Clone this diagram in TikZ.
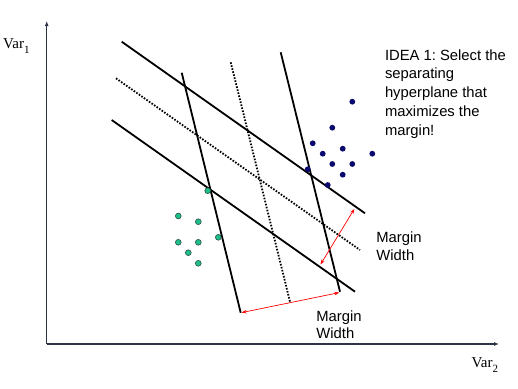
\documentclass[tikz,border=0pt]{standalone}
\usepackage{fontspec}
\setmainfont{Liberation Sans}
\newfontfamily\serifvar{Liberation Serif}
\usetikzlibrary{arrows.meta}
\frenchspacing
\definecolor{axiscol}{HTML}{2E3445}
\definecolor{bluedot}{HTML}{0A0A6E}
\definecolor{greendot}{HTML}{1DBF8C}
\definecolor{greenedge}{HTML}{2F4F45}
\tikzset{
  axis/.style={draw=axiscol, line width=1.3pt, -{Latex[length=5pt,width=4pt]}},
  plane/.style={draw=black, line width=1.8pt},
  midplane/.style={draw=black, line width=1.8pt, dash pattern=on 1.6pt off 1.5pt},
  margarrow/.style={draw=red, line width=0.7pt, {Stealth[length=5pt,width=3.5pt]}-{Stealth[length=5pt,width=3.5pt]}},
  bdot/.style={fill=bluedot, draw=none},
  gdot/.style={fill=greendot, draw=greenedge, line width=0.6pt},
  lbl/.style={inner sep=0pt, anchor=north west, align=left, font=\fontsize{14.8}{17.3}\selectfont},
  varlbl/.style={inner sep=0pt, anchor=base west, font=\serifvar\fontsize{15}{15}\selectfont}
}
\begin{document}
\begin{tikzpicture}[x=1pt,y=-1pt]
\useasboundingbox (0,0) rectangle (518,388);
% axes
\coordinate (O) at (46.7,344);
\coordinate (Ytop) at (46.7,21);
\coordinate (Xend) at (499,344);
\draw[axis] (O) -- (Ytop);
\draw[axis] (O) -- (Xend);
\node[varlbl] (var1) at (3,48.3) {Var\raisebox{-0.35em}{\fontsize{11}{11}\selectfont 1}};
\node[varlbl] (var2) at (471.5,367) {Var\raisebox{-0.35em}{\fontsize{11}{11}\selectfont 2}};
% first family (shallow)
\coordinate (a1) at (121.7,41.7);  \coordinate (a2) at (365,213.3);
\coordinate (m1) at (116,78.3);    \coordinate (m2) at (360,250);
\coordinate (b1) at (111.7,120);   \coordinate (b2) at (355,291.7);
\draw[plane] (a1) -- (a2);
\draw[midplane] (m1) -- (m2);
\draw[plane] (b1) -- (b2);
% second family (steep)
\coordinate (c1) at (181.7,72.7);  \coordinate (c2) at (240.7,312.7);
\coordinate (n1) at (230.7,62.3);  \coordinate (n2) at (290,301.7);
\coordinate (d1) at (280.7,52.3);  \coordinate (d2) at (340,291.7);
\draw[plane] (c1) -- (c2);
\draw[midplane] (n1) -- (n2);
\draw[plane] (d1) -- (d2);
% margin arrows
\coordinate (r1) at (241.5,312.6); \coordinate (r2) at (339.3,292.6);
\coordinate (s1) at (354.3,209);   \coordinate (s2) at (320.5,264.5);
\draw[margarrow] (r1) -- (r2);
\draw[margarrow] (s1) -- (s2);
% blue dots
\foreach \p in {(352.3,101.7),(332.3,127.7),(312.7,143.3),(342.7,148.7),(322.7,153.7),(372.3,153.7),(332.3,164),(352.3,164),(342.7,174.7),(307.7,169.3),(327.7,185)}
  \fill[bdot] \p circle (2.9);
% green dots
\foreach \p in {(207.7,190.7),(178.3,216),(198.3,221.7),(218.3,237.3),(178.3,242.3),(198.3,242.3),(188.3,252.7),(198.3,263.3)}
  \filldraw[gdot] \p circle (2.9);
% texts
\node[lbl, font=\fontsize{14.8}{18.75}\selectfont] (idea) at (384.8,49.2) {IDEA 1: Select the\\separating\\hyperplane that\\maximizes the\\margin!};
\node[lbl] (mw1) at (376.2,231.9) {Margin\\Width};
\node[lbl] (mw2) at (316.2,310.2) {Margin\\Width};
\end{tikzpicture}
\end{document}
